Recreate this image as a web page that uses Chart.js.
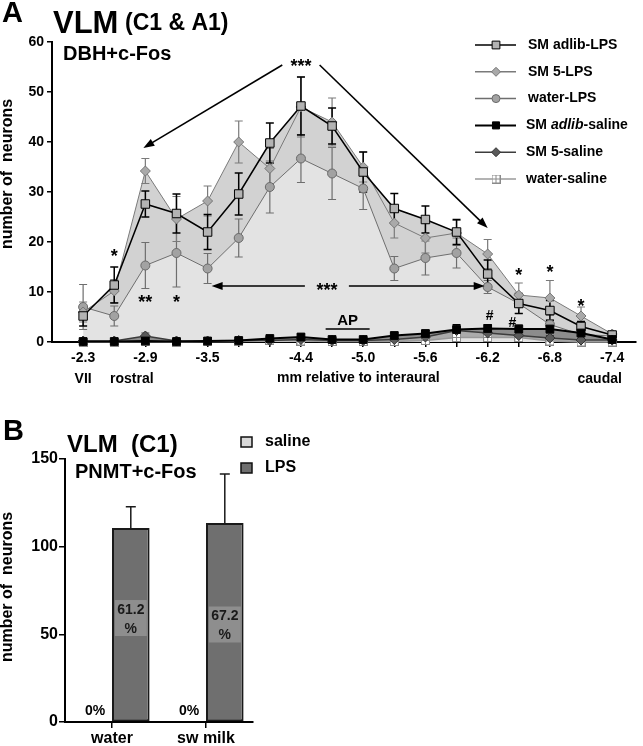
<!DOCTYPE html>
<html>
<head>
<meta charset="utf-8">
<script src="https://cdn.jsdelivr.net/npm/chart.js@4.4.0/dist/chart.umd.min.js"></script>
<style>
  html, body { margin: 0; padding: 0; background: #fff; }
  #wrapA { position: absolute; left: 0; top: 0; width: 643px; height: 390px; }
  #wrapB { position: absolute; left: 0; top: 390px; width: 643px; height: 356px; }
</style>
</head>
<body>
<div id="wrapA"><canvas id="chartA"></canvas></div>
<div id="wrapB"><canvas id="chartB"></canvas></div>
<script>
// ---- panel A data (mm relative to interaural) ----
const positions = [-2.3, -2.6, -2.9, -3.2, -3.5, -3.8, -4.1, -4.4, -4.7, -5.0, -5.3, -5.6, -5.9, -6.2, -6.5, -6.8, -7.1, -7.4];
const xTickLabels = ['-2.3', '-2.9', '-3.5', '-4.4', '-5.0', '-5.6', '-6.2', '-6.8', '-7.4'];
const seriesNames = ['SM adlib-LPS', 'SM 5-LPS', 'water-LPS', 'SM adlib-saline', 'SM 5-saline', 'water-saline'];

const adlibLps    = [5.2, 11.4, 27.6, 25.7, 22.0, 29.6, 39.8, 47.2, 43.2, 34.0, 26.7, 24.5, 22.0, 13.6, 7.7, 6.3, 3.1, 1.4];
const adlibLpsErr = [2.0, 3.6, 2.6, 3.9, 3.5, 4.2, 4.0, 5.8, 3.6, 4.0, 3.0, 2.7, 2.5, 2.8, 2.0, 2.0, 1.0, 0.5];
const sm5Lps      = [6.0, 10.2, 34.2, 24.6, 28.2, 40.0, 34.7, 47.0, 44.0, 35.0, 23.8, 20.8, 21.8, 17.6, 9.4, 8.8, 5.2, 1.6];
const sm5LpsErr   = [2.0, 2.3, 2.5, 4.5, 3.0, 4.2, 4.0, 6.0, 4.8, 3.0, 3.0, 3.0, 2.5, 2.9, 2.4, 3.5, 1.8, 0.5];
const waterLps    = [7.0, 5.2, 15.3, 17.8, 14.7, 20.8, 31.0, 36.7, 33.7, 30.7, 14.7, 16.8, 17.8, 11.0, 7.7, 3.5, 1.5, 1.2];
const waterLpsErr = [4.5, 2.0, 4.6, 6.8, 3.0, 3.8, 5.2, 4.8, 5.2, 4.2, 2.4, 3.4, 3.0, 1.3, 2.0, 1.0, 0.8, 0.5];
const adlibSal    = [0.1, 0.1, 0.2, 0.1, 0.2, 0.3, 0.7, 1.0, 0.5, 0.5, 1.3, 1.7, 2.5, 2.7, 2.6, 2.6, 1.8, 0.5];
const adlibSalErr = [0.1, 0.1, 0.2, 0.1, 0.2, 0.3, 0.4, 0.6, 0.4, 0.4, 0.5, 0.6, 1.0, 0.8, 0.8, 0.8, 0.6, 0.3];
const sm5Sal      = [0.2, 0.2, 1.2, 0.2, 0.2, 0.3, 0.3, 0.5, 0.3, 0.3, 0.5, 1.0, 2.3, 1.8, 1.3, 0.8, 0.4, 0.4];
const sm5SalErr   = [0.2, 0.2, 0.6, 0.2, 0.2, 0.2, 0.3, 0.3, 0.2, 0.2, 0.3, 0.5, 0.9, 0.8, 0.6, 0.5, 0.3, 0.3];
const waterSal    = [0.0, 0.0, 0.1, 0.0, 0.1, 0.1, 0.3, 0.2, 0.1, 0.1, 0.1, 0.3, 0.9, 0.9, 0.9, 0.2, 0.0, 0.0];
const waterSalErr = [0.0, 0.0, 0.1, 0.0, 0.1, 0.1, 0.2, 0.2, 0.1, 0.1, 0.1, 0.2, 0.5, 0.5, 0.5, 0.2, 0.0, 0.0];

// ---- panel B data ----
const groupsB   = ['water', 'sw milk'];
const salineB   = [0, 0];
const lpsB      = [110.7, 113.5];
const lpsErrB   = [12, 28];
const salinePct = ['0%', '0%'];
const lpsPct    = ['61.2', '67.2'];

const FONT = '"Liberation Sans", Arial, Helvetica, sans-serif';
Chart.defaults.font.family = FONT;
Chart.defaults.color = '#000';

// white square with a cross, for water-saline
const crossBox = (() => {
  const c = document.createElement('canvas');
  c.width = 9; c.height = 9;
  const g = c.getContext('2d');
  g.fillStyle = '#fff';
  g.fillRect(0, 0, 9, 9);
  g.strokeStyle = '#8a8a8a';
  g.lineWidth = 1;
  g.strokeRect(0.5, 0.5, 8, 8);
  g.beginPath();
  g.moveTo(4.5, 0.5); g.lineTo(4.5, 8.5);
  g.moveTo(0.5, 4.5); g.lineTo(8.5, 4.5);
  g.stroke();
  return c;
})();

const seriesA = [
  { values: adlibLps, errors: adlibLpsErr, line: '#000', width: 1.5, point: 'rect', radius: 6, bg: '#b3b3b3', border: '#000', fill: { target: 2 }, area: '#d2d2d2', order: 1 },
  { values: sm5Lps, errors: sm5LpsErr, line: '#7a7a7a', width: 1, point: 'rectRot', radius: 5, bg: '#a9a9a9', border: '#767676', fill: { target: 2 }, area: '#d2d2d2', order: 1 },
  { values: waterLps, errors: waterLpsErr, line: '#6e6e6e', width: 1, point: 'circle', radius: 4.5, bg: '#a2a2a2', border: '#6a6a6a', fill: 'origin', area: '#e3e3e3', order: 1 },
  { values: adlibSal, errors: adlibSalErr, line: '#000', width: 2, point: 'rect', radius: 5.5, bg: '#000', border: '#000', fill: { target: 4 }, area: '#8c8c8c', order: 0 },
  { values: sm5Sal, errors: sm5SalErr, line: '#3c3c3c', width: 1.5, point: 'rectRot', radius: 5, bg: '#5a5a5a', border: '#333', fill: { target: 5 }, area: '#ababab', order: 0 },
  { values: waterSal, errors: waterSalErr, line: '#9a9a9a', width: 1.5, point: crossBox, radius: 5, bg: '#fff', border: '#8a8a8a', fill: false, area: 'transparent', order: 0 },
];

const datasetsA = seriesA.map((s, k) => ({
  label: seriesNames[k],
  data: positions.map((x, i) => ({ x: x, y: s.values[i] })),
  borderColor: s.line,
  borderWidth: s.width,
  backgroundColor: s.area,
  fill: s.fill,
  pointStyle: s.point,
  pointRadius: s.radius,
  pointBackgroundColor: s.bg,
  pointBorderColor: s.border,
  pointBorderWidth: 1,
  tension: 0,
  clip: false,
  order: s.order,
}));

function arrow(ctx, x1, y1, x2, y2) {
  const a = Math.atan2(y2 - y1, x2 - x1);
  const L = 11, W = 4;
  ctx.beginPath();
  ctx.moveTo(x1, y1);
  ctx.lineTo(x2 - 6 * Math.cos(a), y2 - 6 * Math.sin(a));
  ctx.stroke();
  ctx.beginPath();
  ctx.moveTo(x2, y2);
  ctx.lineTo(x2 - L * Math.cos(a) + W * Math.sin(a), y2 - L * Math.sin(a) - W * Math.cos(a));
  ctx.lineTo(x2 - L * Math.cos(a) - W * Math.sin(a), y2 - L * Math.sin(a) + W * Math.cos(a));
  ctx.closePath();
  ctx.fill();
}

const errorBarsA = {
  id: 'errorBarsA',
  beforeDatasetsDraw(chart) {
    const ctx = chart.ctx;
    const ys = chart.scales.y;
    ctx.save();
    for (let k = seriesA.length - 1; k >= 0; k--) {
      const s = seriesA[k];
      const meta = chart.getDatasetMeta(k);
      ctx.strokeStyle = s.line === '#9a9a9a' ? '#8a8a8a' : s.line;
      ctx.lineWidth = k === 0 ? 1.5 : 1.2;
      meta.data.forEach((pt, i) => {
        const e = s.errors[i];
        if (!e) return;
        const top = ys.getPixelForValue(s.values[i] + e);
        const bot = ys.getPixelForValue(Math.max(s.values[i] - e, 0));
        ctx.beginPath();
        ctx.moveTo(pt.x, top); ctx.lineTo(pt.x, bot);
        ctx.moveTo(pt.x - 4, top); ctx.lineTo(pt.x + 4, top);
        ctx.moveTo(pt.x - 4, bot); ctx.lineTo(pt.x + 4, bot);
        ctx.stroke();
      });
    }
    ctx.restore();
  }
};

const notesA = {
  id: 'notesA',
  afterDraw(chart) {
    const ctx = chart.ctx;
    const xs = chart.scales.x, ys = chart.scales.y;
    const X = v => xs.getPixelForValue(v), Y = v => ys.getPixelForValue(v);
    ctx.save();
    ctx.fillStyle = '#000';
    ctx.strokeStyle = '#000';
    ctx.textBaseline = 'alphabetic';
    ctx.textAlign = 'left';

    ctx.font = 'bold 29px ' + FONT;
    ctx.fillText('A', 2, 22);
    ctx.font = 'bold 31px ' + FONT;
    ctx.fillText('VLM', 53, 33);
    ctx.font = 'bold 23px ' + FONT;
    ctx.fillText('(C1 & A1)', 125, 30);
    ctx.font = 'bold 20px ' + FONT;
    ctx.fillText('DBH+c-Fos', 63, 60);

    // y title
    ctx.save();
    ctx.translate(8, 174);
    ctx.rotate(-Math.PI / 2);
    ctx.textAlign = 'center';
    ctx.textBaseline = 'middle';
    ctx.font = 'bold 16px ' + FONT;
    ctx.fillText('number of  neurons', 0, 0);
    ctx.restore();

    // arrows
    ctx.lineWidth = 1.6;
    arrow(ctx, X(-4.22), Y(55.4), X(-2.9) - 2, Y(38.8));
    arrow(ctx, X(-4.58), Y(55.4), X(-6.2), Y(22.8));
    arrow(ctx, X(-4.65) - 22, Y(11.2), X(-3.5) + 4, Y(11.2));
    arrow(ctx, X(-4.65) + 22, Y(11.2), X(-6.2) - 3, Y(11.2));

    // significance marks
    ctx.textAlign = 'center';
    ctx.font = 'bold 18px ' + FONT;
    const stars = [['***', -4.4, 56], ['***', -4.65, 11.2], ['*', -2.6, 18], ['**', -2.9, 8.8], ['*', -3.2, 8.8],
                   ['*', -6.5, 14.2], ['*', -6.8, 14.8], ['*', -7.1, 8]];
    stars.forEach(([t, x, y]) => ctx.fillText(t, X(x), Y(y) + 10));
    ctx.font = 'bold 14px ' + FONT;
    ctx.textBaseline = 'middle';
    ctx.fillText('#', X(-6.2) + 2, Y(5.2));
    ctx.fillText('#', X(-6.42) + 2, Y(3.8));

    // AP bar
    ctx.textBaseline = 'alphabetic';
    ctx.font = 'bold 15px ' + FONT;
    ctx.fillText('AP', X(-4.85), 325);
    ctx.lineWidth = 1.5;
    ctx.beginPath();
    ctx.moveTo(X(-4.85) - 22, 329); ctx.lineTo(X(-4.85) + 22, 329);
    ctx.stroke();

    // axis notes
    ctx.font = 'bold 14px ' + FONT;
    ctx.fillText('VII', X(-2.3), 383);
    ctx.fillText('rostral', X(-2.77), 383);
    ctx.fillText('caudal', X(-7.28), 383);
    ctx.textAlign = 'left';
    ctx.fillText('mm relative to interaural', 277, 382);

    // legend
    ctx.textBaseline = 'middle';
    seriesA.forEach((s, k) => {
      const y = 45 + k * 26.8;
      ctx.strokeStyle = s.line;
      ctx.lineWidth = k === 3 ? 2 : 1.5;
      ctx.beginPath();
      ctx.moveTo(475, y); ctx.lineTo(516, y);
      ctx.stroke();
      ctx.fillStyle = s.bg;
      ctx.strokeStyle = s.border;
      ctx.lineWidth = 1;
      Chart.helpers.drawPoint(ctx, { pointStyle: s.point, rotation: 0, radius: s.radius - 0.5, borderWidth: 1 }, 496, y);
      ctx.fillStyle = '#000';
      const tx = k < 3 ? 528 : 526;
      if (k === 3) {
        ctx.font = 'bold 14px ' + FONT;
        ctx.fillText('SM ', tx, y);
        let w = ctx.measureText('SM ').width;
        ctx.font = 'italic bold 14px ' + FONT;
        ctx.fillText('adlib', tx + w, y);
        w += ctx.measureText('adlib').width;
        ctx.font = 'bold 14px ' + FONT;
        ctx.fillText('-saline', tx + w, y);
      } else {
        ctx.font = 'bold 14px ' + FONT;
        ctx.fillText(seriesNames[k], tx, y);
      }
    });
    ctx.restore();
  }
};

new Chart(document.getElementById('chartA'), {
  type: 'line',
  data: { datasets: datasetsA },
  options: {
    responsive: true,
    maintainAspectRatio: false,
    animation: false,
    devicePixelRatio: 1,
    layout: { padding: { top: 42, right: 0, left: 0, bottom: 0 } },
    plugins: {
      legend: { display: false },
      tooltip: { enabled: false },
      filler: { drawTime: 'beforeDatasetsDraw' },
    },
    scales: {
      x: {
        type: 'linear',
        reverse: true,
        min: -7.63,
        max: -2.0,
        afterBuildTicks: (scale) => { scale.ticks = positions.map(v => ({ value: v })); },
        afterFit: (scale) => { scale.height = 48; },
        ticks: {
          autoSkip: false,
          maxRotation: 0,
          padding: 3,
          font: { size: 14, weight: 'bold' },
          callback: (value) => xTickLabels.find(l => Math.abs(parseFloat(l) - value) < 1e-6) || '',
        },
        grid: { drawOnChartArea: false, tickLength: 5, color: '#000', lineWidth: 1.5 },
        border: { color: '#000', width: 2 },
      },
      y: {
        min: 0,
        max: 60,
        afterFit: (scale) => { scale.width = 52; },
        ticks: { stepSize: 10, padding: 3, font: { size: 14, weight: 'bold' } },
        grid: { drawOnChartArea: false, tickLength: 5, color: '#000', lineWidth: 1.5 },
        border: { color: '#000', width: 2 },
      },
    },
  },
  plugins: [errorBarsA, notesA],
});

// ---- panel B ----
const notesB = {
  id: 'notesB',
  afterDatasetsDraw(chart) {
    const ctx = chart.ctx;
    const ys = chart.scales.y;
    const sal = chart.getDatasetMeta(0).data;
    const lps = chart.getDatasetMeta(1).data;
    ctx.save();
    // error bars
    ctx.strokeStyle = '#1a1a1a';
    ctx.lineWidth = 1.5;
    lps.forEach((bar, i) => {
      const top = ys.getPixelForValue(lpsB[i] + lpsErrB[i]);
      ctx.beginPath();
      ctx.moveTo(bar.x, bar.y); ctx.lineTo(bar.x, top);
      ctx.moveTo(bar.x - 5, top); ctx.lineTo(bar.x + 5, top);
      ctx.stroke();
    });
    // percentage labels
    const boxAt = [59.3, 55.6];
    ctx.textAlign = 'center';
    ctx.textBaseline = 'middle';
    lps.forEach((bar, i) => {
      const cy = ys.getPixelForValue(boxAt[i]);
      ctx.fillStyle = '#8e8e8e';
      ctx.fillRect(bar.x - 16, cy - 18, 32, 36);
      ctx.fillStyle = '#1a1a1a';
      ctx.font = 'bold 14px ' + FONT;
      ctx.fillText(lpsPct[i], bar.x, cy - 8);
      ctx.fillText('%', bar.x, cy + 11);
    });
    ctx.fillStyle = '#000';
    sal.forEach((bar, i) => ctx.fillText(salinePct[i], bar.x + 2, ys.getPixelForValue(0) - 11));

    // titles
    ctx.textAlign = 'left';
    ctx.textBaseline = 'alphabetic';
    ctx.font = 'bold 29px ' + FONT;
    ctx.fillText('B', 3, 50);
    ctx.font = 'bold 24px ' + FONT;
    ctx.fillText('VLM  (C1)', 67, 62);
    ctx.font = 'bold 20px ' + FONT;
    ctx.fillText('PNMT+c-Fos', 75, 88);

    ctx.save();
    ctx.translate(8, 197);
    ctx.rotate(-Math.PI / 2);
    ctx.textAlign = 'center';
    ctx.textBaseline = 'middle';
    ctx.font = 'bold 16px ' + FONT;
    ctx.fillText('number of  neurons', 0, 0);
    ctx.restore();

    // legend
    const legendB = [['saline', '#d9d9d9'], ['LPS', '#6f6f6f']];
    ctx.textBaseline = 'middle';
    ctx.font = 'bold 16px ' + FONT;
    legendB.forEach(([name, col], k) => {
      const y = 52 + k * 26;
      ctx.fillStyle = col;
      ctx.fillRect(241, y - 5, 11, 10);
      ctx.strokeStyle = '#111';
      ctx.lineWidth = 1.5;
      ctx.strokeRect(241, y - 5, 11, 10);
      ctx.fillStyle = '#000';
      ctx.fillText(name, 265, y);
    });
    ctx.restore();
  }
};

new Chart(document.getElementById('chartB'), {
  type: 'bar',
  data: {
    labels: groupsB,
    datasets: [
      { label: 'saline', data: salineB, backgroundColor: '#d9d9d9', borderWidth: 0 },
      { label: 'LPS', data: lpsB, backgroundColor: '#6f6f6f', borderColor: '#1a1a1a', borderWidth: 2, borderSkipped: false },
    ],
  },
  options: {
    responsive: true,
    maintainAspectRatio: false,
    animation: false,
    devicePixelRatio: 1,
    categoryPercentage: 0.8,
    barPercentage: 1.0,
    layout: { padding: { top: 69, right: 390, left: 0, bottom: 0 } },
    plugins: { legend: { display: false }, tooltip: { enabled: false } },
    scales: {
      x: {
        afterFit: (scale) => { scale.height = 24; },
        ticks: { maxRotation: 0, padding: 1, font: { size: 16, weight: 'bold' } },
        grid: { drawOnChartArea: false, offset: false, tickLength: 6, color: '#000', lineWidth: 1.5 },
        border: { color: '#000', width: 2 },
      },
      y: {
        min: 0,
        max: 150,
        afterFit: (scale) => { scale.width = 65; },
        ticks: { stepSize: 50, padding: 1, font: { size: 16, weight: 'bold' } },
        grid: { drawOnChartArea: false, tickLength: 6, color: '#000', lineWidth: 1.5 },
        border: { color: '#000', width: 2 },
      },
    },
  },
  plugins: [notesB],
});
</script>
</body>
</html>
